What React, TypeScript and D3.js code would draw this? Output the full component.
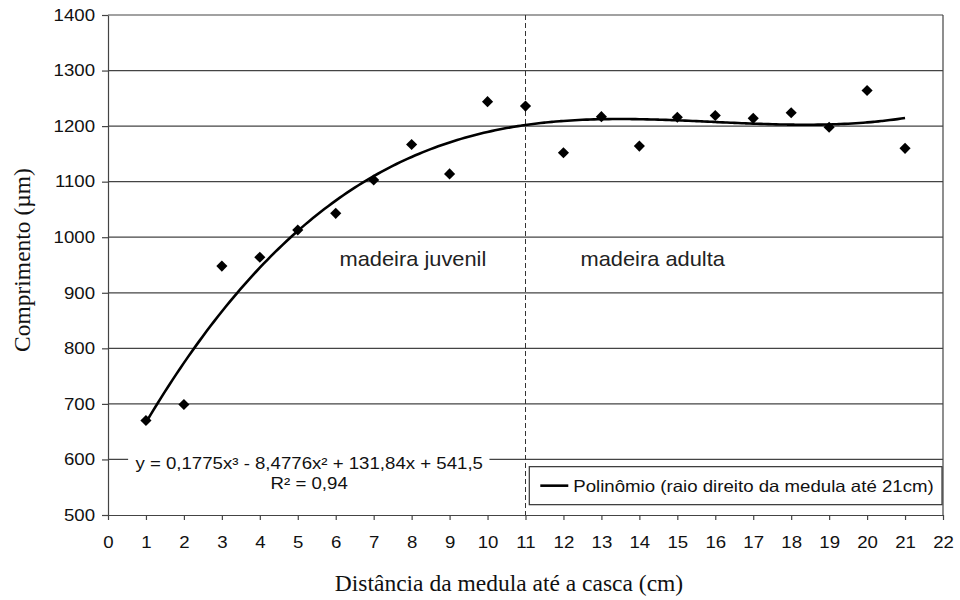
import React, { useRef, useEffect } from 'react';
import * as d3 from 'd3';

// distance from the pith (cm) and fibre length (µm)
const distances = [1, 2, 3, 4, 5, 6, 7, 8, 9, 10, 11, 12, 13, 14, 15, 16, 17, 18, 19, 20, 21];
const lengths = [670, 699, 948, 964, 1013, 1043, 1103, 1167, 1114, 1244, 1236, 1152, 1217, 1164, 1216, 1219, 1214, 1224, 1198, 1264, 1160];

const xTicks = d3.range(0, 23);
const yTicks = [500, 600, 700, 800, 900, 1000, 1100, 1200, 1300, 1400];

const equationLabel = 'y = 0,1775x³ - 8,4776x² + 131,84x + 541,5';
const r2Label = 'R² = 0,94';
const legendLabel = 'Polinômio (raio direito da medula até 21cm)';
const juvenilLabel = 'madeira juvenil';
const adultaLabel = 'madeira adulta';
const xTitle = 'Distância da medula até a casca (cm)';
const yTitle = 'Comprimento (µm)';
const splitAt = 11;

const SANS = '"Liberation Sans", Arial, sans-serif';
const SERIF = '"Liberation Serif", "Times New Roman", serif';
const FS = 16.5;   // sans text size
const SX = 1.13;   // the scan is stretched sideways a bit

// least squares cubic fit, solved with gaussian elimination
const cubicFit = (xs, ys) => {
  const n = 4;
  const A = Array.from({ length: n }, () => new Array(n + 1).fill(0));
  xs.forEach((x, k) => {
    for (let i = 0; i < n; i++) {
      for (let j = 0; j < n; j++) A[i][j] += Math.pow(x, i + j);
      A[i][n] += ys[k] * Math.pow(x, i);
    }
  });
  for (let c = 0; c < n; c++) {
    let p = c;
    for (let r = c + 1; r < n; r++) if (Math.abs(A[r][c]) > Math.abs(A[p][c])) p = r;
    [A[c], A[p]] = [A[p], A[c]];
    for (let r = 0; r < n; r++) {
      if (r === c) continue;
      const f = A[r][c] / A[c][c];
      for (let j = c; j <= n; j++) A[r][j] -= f * A[c][j];
    }
  }
  return A.map((row, i) => row[n] / row[i]);
};

const App = () => {
  const svgRef = useRef(null);

  useEffect(() => {
    const svg = d3.select(svgRef.current);
    svg.selectAll('*').remove();

    const margin = { top: 15, right: 17, bottom: 85, left: 108 };
    const width = 960 - margin.left - margin.right;
    const height = 600 - margin.top - margin.bottom;

    const g = svg.append('g').attr('transform', `translate(${margin.left},${margin.top})`);

    const x = d3.scaleLinear().domain([0, 22]).range([0, width]);
    const y = d3.scaleLinear().domain([500, 1400]).range([height, 0]);

    const sansText = (parent, tx, ty, label, anchor = 'start', size = FS, sx = SX) =>
      parent.append('text')
        .attr('transform', `translate(${tx},${ty}) scale(${sx},1)`)
        .attr('text-anchor', anchor)
        .attr('font-family', SANS)
        .attr('font-size', size)
        .attr('fill', '#111')
        .text(label);

    // gridlines
    g.append('g')
      .selectAll('line')
      .data(yTicks.filter(d => d > 500))
      .enter().append('line')
      .attr('x1', 0)
      .attr('x2', width)
      .attr('y1', d => y(d))
      .attr('y2', d => y(d))
      .attr('stroke', '#444')
      .attr('stroke-width', 1.2);

    // right border
    g.append('line')
      .attr('x1', width).attr('x2', width)
      .attr('y1', 0).attr('y2', height)
      .attr('stroke', '#444')
      .attr('stroke-width', 1.2);

    // y axis
    const yAxis = g.append('g')
      .call(d3.axisLeft(y).tickValues(yTicks).tickFormat(d3.format('d')).tickSize(6).tickPadding(7).tickSizeOuter(0));
    yAxis.select('.domain').attr('stroke', '#444').attr('stroke-width', 1.2);
    yAxis.selectAll('.tick line').attr('stroke', '#444').attr('stroke-width', 1.2);
    yAxis.selectAll('.tick text')
      .attr('x', null)
      .attr('transform', `translate(-13,0) scale(${SX},1)`)
      .attr('font-family', SANS).attr('font-size', FS).attr('fill', '#111');

    // x axis
    const xAxis = g.append('g')
      .attr('transform', `translate(0,${height})`)
      .call(d3.axisBottom(x).tickValues(xTicks).tickSize(5).tickPadding(16).tickSizeOuter(0));
    xAxis.select('.domain').attr('stroke', '#444').attr('stroke-width', 1.2);
    xAxis.selectAll('.tick line').attr('stroke', '#444').attr('stroke-width', 1.2);
    xAxis.selectAll('.tick text')
      .attr('transform', `scale(${SX},1)`)
      .attr('font-family', SANS).attr('font-size', FS).attr('fill', '#111');

    // dashed divider between juvenile and adult wood
    g.append('line')
      .attr('x1', x(splitAt)).attr('x2', x(splitAt))
      .attr('y1', 0).attr('y2', height)
      .attr('stroke', '#333')
      .attr('stroke-width', 1)
      .style('stroke-dasharray', '5, 3');

    // polynomial trendline
    const [c0, c1, c2, c3] = cubicFit(distances, lengths);
    const curveXs = d3.range(distances[0], distances[distances.length - 1] + 0.001, 0.1);
    const trend = d3.line()
      .x(d => x(d))
      .y(d => y(c0 + c1 * d + c2 * d * d + c3 * d * d * d))
      .curve(d3.curveMonotoneX);
    g.append('path')
      .datum(curveXs)
      .attr('fill', 'none')
      .attr('stroke', '#000')
      .attr('stroke-width', 2.6)
      .attr('d', trend);

    // points
    const diamond = d3.symbol().type(d3.symbolSquare).size(62);
    g.selectAll('.pt')
      .data(distances)
      .enter().append('path')
      .attr('class', 'pt')
      .attr('d', diamond)
      .attr('transform', (d, i) => `translate(${x(d)},${y(lengths[i])}) rotate(45)`)
      .attr('fill', '#000');

    // region labels
    sansText(g, x(6.1), y(948), juvenilLabel, 'start', 21, 1.04).attr('fill', '#222');
    sansText(g, x(12.45), y(948), adultaLabel, 'start', 21, 1.04).attr('fill', '#222');

    // equation label
    const eqX = x(5.3);
    g.append('rect')
      .attr('x', x(0.53))
      .attr('y', y(621))
      .attr('width', x(10.05) - x(0.53))
      .attr('height', 46)
      .attr('fill', '#fff');
    sansText(g, eqX, y(583), equationLabel, 'middle');
    sansText(g, eqX, y(546), r2Label, 'middle');

    // legend
    const lx = x(11.1);
    const ly = y(587);
    const lg = g.append('g').attr('transform', `translate(${lx},${ly})`);
    lg.append('rect')
      .attr('x', 0).attr('y', 0)
      .attr('width', width - 1 - lx)
      .attr('height', 38)
      .attr('fill', '#fff')
      .attr('stroke', '#333')
      .attr('stroke-width', 1.2);
    lg.append('line')
      .attr('x1', 11).attr('x2', 39)
      .attr('y1', 19).attr('y2', 19)
      .attr('stroke', '#000')
      .attr('stroke-width', 2.6);
    sansText(lg, 44, 25, legendLabel);

    // axis titles
    svg.append('text')
      .attr('x', 509)
      .attr('y', 591)
      .attr('text-anchor', 'middle')
      .attr('font-family', SERIF)
      .attr('font-size', 23.5)
      .attr('fill', '#111')
      .text(xTitle);
    svg.append('text')
      .attr('transform', 'rotate(-90)')
      .attr('x', -260)
      .attr('y', 30)
      .attr('text-anchor', 'middle')
      .attr('font-family', SERIF)
      .attr('font-size', 23.5)
      .attr('fill', '#111')
      .text(yTitle);
  }, []);

  return (
    <svg
      ref={svgRef}
      width="960"
      height="600"
      style={{ position: 'absolute', left: 0, top: 0, background: '#fff' }}
    ></svg>
  );
};

export default App;
